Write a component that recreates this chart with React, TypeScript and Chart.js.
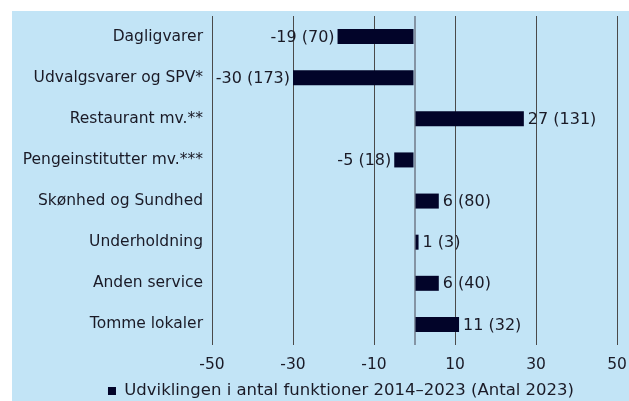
import React, { useEffect, useRef } from "react";
import { Chart, registerables } from "chart.js";

Chart.register(...registerables);

const categories = [
  "Dagligvarer",
  "Udvalgsvarer og SPV*",
  "Restaurant mv.**",
  "Pengeinstitutter mv.***",
  "Skønhed og Sundhed",
  "Underholdning",
  "Anden service",
  "Tomme lokaler",
];
const changeValues = [-19, -30, 27, -5, 6, 1, 6, 11];
const counts2023 = [70, 173, 131, 18, 80, 3, 40, 32];
const xTickValues = [-50, -30, -10, 0, 10, 30, 50];
const seriesLabel = "Udviklingen i antal funktioner 2014–2023 (Antal 2023)";

const FONT = "'DejaVu Sans'";
const FS = 15.5;
const FS_VAL = 16;
const FS_LEG = 16.5;
const TEXT = "#1a1a26";
const BAR = "#020429";
const BG = "#c2e4f6";

const valueLabels = {
  id: "valueLabels",
  afterLayout(chart: any) {
    if (chart.legend) {
      chart.legend.left = 53;
    }
  },
  afterDatasetsDraw(chart: any) {
    const ctx = chart.ctx;
    const meta = chart.getDatasetMeta(0);
    ctx.save();
    ctx.font = `${FS_VAL}px ${FONT}`;
    ctx.fillStyle = TEXT;
    ctx.textBaseline = "middle";
    meta.data.forEach((el: any, i: number) => {
      const v = changeValues[i];
      const txt = `${v} (${counts2023[i]})`;
      if (v < 0) {
        ctx.textAlign = "right";
        ctx.fillText(txt, el.x - 3, el.y + 1);
      } else {
        ctx.textAlign = "left";
        ctx.fillText(txt, el.x + 4, el.y + 1);
      }
    });
    ctx.restore();
  },
};

export default function App() {
  const ref = useRef<HTMLCanvasElement>(null);
  useEffect(() => {
    if (!ref.current) return;
    const chart = new Chart(ref.current, {
      type: "bar",
      data: {
        labels: categories,
        datasets: [
          {
            label: seriesLabel,
            data: changeValues,
            backgroundColor: BAR,
            borderColor: BAR,
            borderWidth: 0,
            barPercentage: 0.365,
            categoryPercentage: 1,
          },
        ],
      },
      options: {
        indexAxis: "y",
        animation: false,
        responsive: false,
        maintainAspectRatio: false,
        layout: { autoPadding: false, padding: { left: 0, right: 12, top: 5, bottom: -8.25 } },
        scales: {
          x: {
            min: -50,
            max: 50,
            afterBuildTicks: (scale: any) => {
              scale.ticks = xTickValues.map((v) => ({ value: v }));
            },
            afterFit: (scale: any) => {
              scale.height = 27.75;
              scale.paddingLeft = 0;
              scale.paddingRight = 0;
            },
            border: { display: false },
            grid: {
              drawTicks: false,
              color: (c: any) => (c.tick && c.tick.value === 0 ? "#8494a4" : "#4a4a4a"),
              lineWidth: (c: any) => (c.tick && c.tick.value === 0 ? 2 : 1),
            },
            ticks: {
              padding: 11,
              color: TEXT,
              font: { family: FONT, size: FS },
              callback: (v: any) => (Number(v) === 0 ? "" : String(v)),
            },
          },
          y: {
            afterFit: (scale: any) => {
              scale.width = 200;
              scale.paddingTop = 0;
              scale.paddingBottom = 0;
            },
            border: { display: false },
            grid: { display: false, drawTicks: false },
            ticks: {
              padding: 9,
              color: TEXT,
              font: { family: FONT, size: FS },
            },
          },
        },
        plugins: {
          legend: {
            position: "bottom",
            labels: {
              boxWidth: 8,
              boxHeight: 8,
              color: TEXT,
              font: { family: FONT, size: FS_LEG },
            },
          },
          tooltip: { enabled: false },
        },
      },
      plugins: [valueLabels],
    });
    return () => chart.destroy();
  }, []);
  return (
    <div
      style={{
        position: "fixed",
        left: 12,
        top: 11,
        width: 617,
        height: 390,
        background: BG,
      }}
    >
      <canvas ref={ref} width={617} height={390} style={{ display: "block" }} />
    </div>
  );
}
